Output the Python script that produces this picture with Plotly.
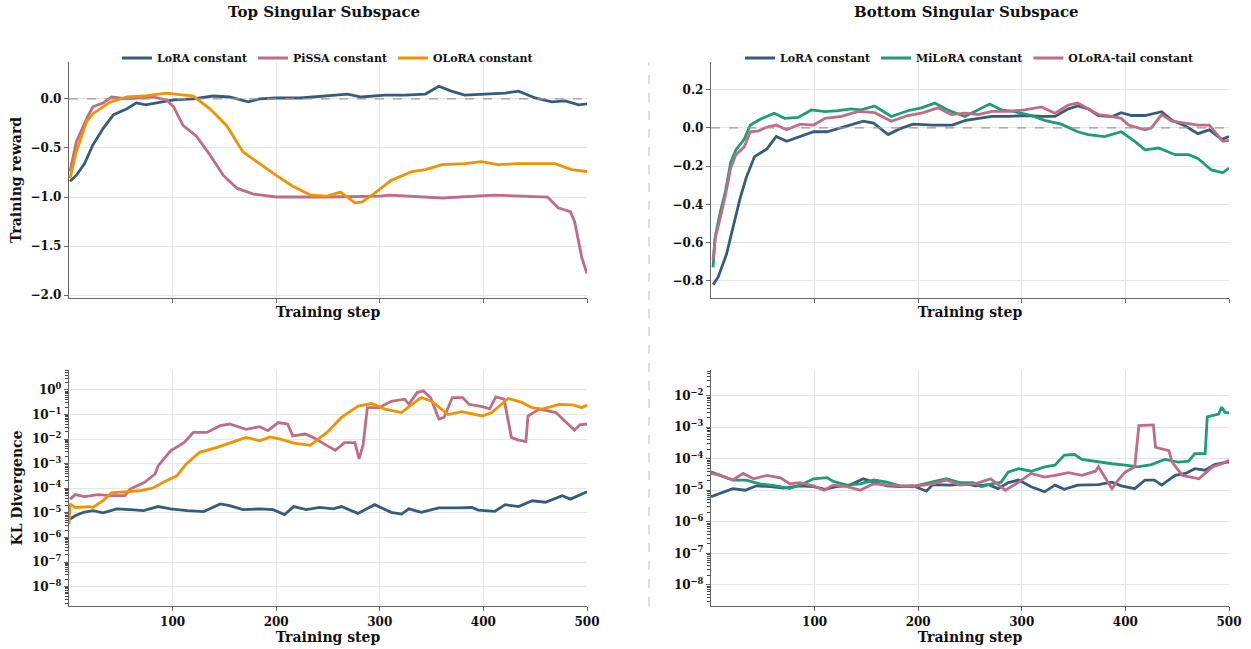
import plotly.graph_objects as go
from plotly.subplots import make_subplots

# ---------------- data ----------------
# Top singular subspace: training reward
tl_lora_step = [1, 7, 15, 23, 33, 43, 56, 65, 74, 88, 101, 120, 139, 155, 173, 184, 200, 223, 249, 269, 282,
                305, 324, 344, 357, 369, 382, 402, 421, 434, 450, 466, 479, 492, 500]
tl_lora_reward = [-0.84, -0.78, -0.66, -0.47, -0.30, -0.16, -0.10, -0.04, -0.06, -0.03, -0.01, 0.0, 0.03, 0.02,
                  -0.03, 0.0, 0.01, 0.01, 0.03, 0.05, 0.02, 0.04, 0.04, 0.05, 0.13, 0.08, 0.04, 0.05, 0.06, 0.08,
                  0.01, -0.03, -0.02, -0.06, -0.05]
tl_pissa_step = [1, 7, 17, 23, 33, 41, 56, 81, 94, 101, 110, 123, 136, 149, 162, 178, 200, 250, 300, 310, 360,
                 400, 410, 462, 472, 484, 488, 495, 500]
tl_pissa_reward = [-0.74, -0.44, -0.20, -0.08, -0.04, 0.02, 0.0, 0.02, -0.01, -0.08, -0.27, -0.38, -0.57, -0.78,
                   -0.91, -0.97, -1.0, -1.0, -0.99, -0.98, -1.01, -0.99, -0.98, -1.0, -1.11, -1.15, -1.25, -1.62,
                   -1.78]
tl_olora_step = [1, 7, 17, 23, 40, 56, 72, 94, 120, 136, 152, 168, 184, 200, 216, 233, 249, 262, 276, 283, 295,
                 311, 331, 344, 360, 382, 398, 414, 434, 453, 469, 485, 500]
tl_olora_reward = [-0.81, -0.54, -0.23, -0.15, -0.03, 0.02, 0.03, 0.06, 0.03, -0.10, -0.27, -0.54, -0.66, -0.78,
                   -0.89, -0.98, -0.99, -0.95, -1.06, -1.05, -0.96, -0.83, -0.74, -0.72, -0.67, -0.66, -0.64,
                   -0.67, -0.66, -0.66, -0.66, -0.72, -0.74]

# Bottom singular subspace: training reward
tr_lora_step = [2, 7, 15, 22, 28, 34, 42, 54, 63, 73, 86, 99, 112, 125, 147, 157, 171, 182, 195, 214, 233, 246,
                258, 271, 287, 303, 319, 332, 345, 354, 364, 374, 387, 396, 406, 419, 435, 445, 458, 470, 481,
                493, 500]
tr_lora_reward = [-0.82, -0.78, -0.66, -0.51, -0.37, -0.26, -0.15, -0.11, -0.045, -0.07, -0.045, -0.02, -0.02,
                  0.0, 0.035, 0.025, -0.035, -0.005, 0.02, 0.015, 0.015, 0.04, 0.05, 0.06, 0.06, 0.065, 0.06,
                  0.06, 0.10, 0.115, 0.10, 0.065, 0.06, 0.08, 0.065, 0.065, 0.085, 0.04, 0.01, -0.03, -0.01,
                  -0.06, -0.045]
tr_milora_step = [2, 4, 9, 14, 19, 24, 32, 38, 48, 61, 71, 84, 97, 110, 123, 135, 145, 158, 174, 190, 203, 216,
                  228, 245, 258, 269, 280, 293, 309, 322, 338, 354, 364, 380, 396, 409, 419, 432, 448, 461, 470,
                  483, 494, 500]
tr_milora_reward = [-0.73, -0.57, -0.44, -0.33, -0.18, -0.115, -0.06, 0.015, 0.047, 0.077, 0.05, 0.055, 0.094,
                    0.085, 0.09, 0.10, 0.095, 0.115, 0.06, 0.09, 0.105, 0.13, 0.095, 0.06, 0.095, 0.125, 0.095,
                    0.085, 0.065, 0.04, 0.02, -0.02, -0.035, -0.045, -0.02, -0.07, -0.115, -0.105, -0.14, -0.14,
                    -0.16, -0.22, -0.235, -0.21]
tr_olora_tail_step = [2, 4, 9, 14, 19, 24, 32, 38, 46, 54, 63, 73, 86, 99, 110, 126, 142, 158, 174, 190, 203,
                      219, 232, 245, 258, 271, 287, 303, 319, 332, 345, 354, 364, 374, 387, 396, 403, 419, 425,
                      435, 445, 458, 470, 481, 494, 500]
tr_olora_tail_reward = [-0.69, -0.58, -0.47, -0.35, -0.21, -0.14, -0.10, -0.02, -0.015, 0.005, 0.015, -0.01,
                        0.02, 0.015, 0.05, 0.06, 0.087, 0.08, 0.035, 0.065, 0.077, 0.105, 0.07, 0.077, 0.07,
                        0.087, 0.087, 0.095, 0.11, 0.077, 0.12, 0.13, 0.10, 0.07, 0.06, 0.05, 0.015, -0.01, 0.0,
                        0.07, 0.035, 0.025, 0.015, 0.015, -0.07, -0.065]

# Top singular subspace: KL divergence
bl_lora_step = [1, 6, 14, 23, 33, 46, 59, 72, 86, 98, 114, 130, 146, 155, 168, 184, 197, 208, 217, 229, 242, 255,
                263, 279, 295, 311, 321, 328, 340, 357, 376, 389, 395, 411, 421, 434, 447, 460, 476, 484, 500]
bl_lora_kl = [5.6e-6, 7.6e-6, 1.05e-5, 1.23e-5, 1.0e-5, 1.45e-5, 1.35e-5, 1.23e-5, 1.8e-5, 1.45e-5, 1.23e-5,
              1.12e-5, 2.3e-5, 1.95e-5, 1.35e-5, 1.45e-5, 1.35e-5, 8.5e-6, 1.8e-5, 1.35e-5, 1.65e-5, 1.45e-5,
              1.8e-5, 9.5e-6, 2.15e-5, 1.05e-5, 8.9e-6, 1.45e-5, 1.05e-5, 1.6e-5, 1.6e-5, 1.65e-5, 1.3e-5,
              1.15e-5, 2.15e-5, 1.8e-5, 3.1e-5, 2.7e-5, 5.0e-5, 3.6e-5, 7.2e-5]
bl_pissa_step = [1, 6, 15, 28, 41, 54, 59, 73, 83, 86, 98, 111, 120, 133, 146, 155, 171, 184, 192, 202, 211,
                 216, 228, 236, 249, 257, 266, 276, 280, 284, 288, 299, 311, 324, 328, 336, 342, 349, 357, 362,
                 370, 380, 386, 399, 406, 412, 420, 427, 433, 441, 443, 454, 470, 480, 488, 493, 500]
bl_pissa_kl = [3.6e-5, 5.5e-5, 4.6e-5, 5.5e-5, 5.0e-5, 5.0e-5, 9.3e-5, 1.75e-4, 3.8e-4, 8.1e-4, 3.3e-3, 7.2e-3,
               1.86e-2, 1.86e-2, 3.5e-2, 4.1e-2, 2.5e-2, 3.2e-2, 2.2e-2, 4.7e-2, 4.1e-2, 1.35e-2, 1.6e-2,
               1.15e-2, 5.4e-3, 3.5e-3, 7.2e-3, 7.2e-3, 1.55e-3, 6.3e-3, 0.19, 0.19, 0.34, 0.42, 0.26, 0.78,
               0.91, 0.49, 0.065, 0.076, 0.49, 0.49, 0.26, 0.21, 0.17, 0.52, 0.42, 0.0117, 0.0093, 0.0079,
               0.087, 0.166, 0.12, 0.047, 0.023, 0.038, 0.041]
bl_olora_step = [0, 1, 6, 20, 23, 33, 41, 54, 68, 81, 91, 104, 113, 126, 143, 159, 171, 184, 194, 204, 217, 233,
                 239, 249, 257, 263, 279, 292, 305, 321, 331, 340, 350, 366, 379, 399, 408, 424, 437, 447, 457,
                 473, 486, 495, 500]
bl_olora_kl = [3.5e-6, 2.3e-5, 1.65e-5, 1.8e-5, 1.65e-5, 3.2e-5, 6.5e-5, 7.2e-5, 7.9e-5, 1.02e-4, 1.75e-4,
               3.2e-4, 9.5e-4, 2.9e-3, 4.6e-3, 7.9e-3, 1.17e-2, 8.5e-3, 1.23e-2, 1.0e-2, 6.8e-3, 5.6e-3, 9.1e-3,
               1.86e-2, 4.1e-2, 7.6e-2, 0.22, 0.28, 0.166, 0.12, 0.26, 0.49, 0.35, 0.10, 0.13, 0.087, 0.12,
               0.45, 0.31, 0.19, 0.166, 0.26, 0.245, 0.19, 0.245]

# Bottom singular subspace: KL divergence
br_lora_step = [0, 4, 12, 21, 33, 44, 57, 70, 86, 99, 110, 121, 134, 147, 157, 170, 182, 195, 208, 214, 231, 247,
                255, 268, 277, 287, 297, 309, 322, 332, 341, 354, 374, 387, 396, 409, 419, 428, 435, 448, 458,
                467, 477, 486, 498, 500]
br_lora_kl = [6.2e-6, 6.9e-6, 8.9e-6, 1.12e-5, 1.0e-5, 1.38e-5, 1.29e-5, 1.17e-5, 1.38e-5, 1.29e-5, 1.07e-5,
              1.29e-5, 1.45e-5, 2.3e-5, 1.8e-5, 1.38e-5, 1.29e-5, 1.38e-5, 9.3e-6, 1.5e-5, 1.45e-5, 1.6e-5,
              1.38e-5, 1.5e-5, 1.12e-5, 1.74e-5, 2.1e-5, 1.29e-5, 8.9e-6, 1.45e-5, 1.07e-5, 1.45e-5, 1.5e-5,
              1.8e-5, 1.38e-5, 1.12e-5, 2.1e-5, 2.1e-5, 1.45e-5, 2.95e-5, 3.4e-5, 4.8e-5, 4.3e-5, 6.5e-5,
              7.8e-5, 7.8e-5]
br_milora_step = [0, 9, 21, 34, 47, 63, 76, 89, 99, 112, 118, 131, 144, 157, 170, 182, 195, 211, 227, 240, 253,
                  261, 271, 280, 287, 297, 309, 322, 332, 341, 351, 358, 374, 387, 400, 412, 425, 438, 451, 461,
                  467, 477, 479, 490, 493, 496, 500]
br_milora_kl = [3.8e-5, 2.95e-5, 2.1e-5, 2.1e-5, 1.6e-5, 1.38e-5, 1.12e-5, 1.6e-5, 2.3e-5, 2.5e-5, 1.9e-5,
                1.45e-5, 1.6e-5, 2.1e-5, 1.8e-5, 1.38e-5, 1.29e-5, 1.74e-5, 2.3e-5, 1.74e-5, 1.74e-5, 1.29e-5,
                1.6e-5, 1.8e-5, 3.8e-5, 4.8e-5, 4.0e-5, 5.5e-5, 6.2e-5, 1.29e-4, 1.35e-4, 9.5e-5, 7.8e-5,
                6.9e-5, 6.2e-5, 5.5e-5, 6.5e-5, 9.5e-5, 7.8e-5, 8.3e-5, 1.45e-4, 1.45e-4, 2.1e-3, 2.6e-3,
                4.3e-3, 2.95e-3, 2.8e-3]
br_olora_tail_step = [0, 9, 21, 31, 41, 54, 67, 76, 86, 99, 109, 118, 131, 144, 157, 170, 182, 199, 214, 227,
                      240, 255, 270, 284, 297, 309, 322, 332, 345, 358, 371, 374, 387, 393, 400, 409, 413, 427,
                      429, 442, 445, 455, 471, 484, 493, 500]
br_olora_tail_kl = [3.4e-5, 2.95e-5, 2.1e-5, 3.4e-5, 2.3e-5, 2.95e-5, 2.45e-5, 1.6e-5, 1.74e-5, 1.38e-5, 1.0e-5,
                    1.45e-5, 1.29e-5, 1.0e-5, 1.6e-5, 1.5e-5, 1.38e-5, 1.38e-5, 1.6e-5, 2.1e-5, 1.45e-5, 1.6e-5,
                    2.3e-5, 1.0e-5, 1.8e-5, 3.4e-5, 2.6e-5, 2.95e-5, 3.6e-5, 2.95e-5, 4.0e-5, 5.5e-5, 1.12e-5,
                    2.1e-5, 3.8e-5, 5.5e-5, 1.12e-3, 1.17e-3, 2.3e-4, 1.8e-4, 7.8e-5, 2.95e-5, 2.3e-5, 5.5e-5,
                    6.9e-5, 8.9e-5]

x_ticks = [100, 200, 300, 400, 500]
tl_yticks = [0.0, -0.5, -1.0, -1.5, -2.0]
tr_yticks = [0.2, 0.0, -0.2, -0.4, -0.6, -0.8]
bl_kl_ticks = [1e0, 1e-1, 1e-2, 1e-3, 1e-4, 1e-5, 1e-6, 1e-7, 1e-8]
bl_kl_labels = ["10<sup>0</sup>", "10<sup>−1</sup>", "10<sup>−2</sup>", "10<sup>−3</sup>", "10<sup>−4</sup>",
                "10<sup>−5</sup>", "10<sup>−6</sup>", "10<sup>−7</sup>", "10<sup>−8</sup>"]
br_kl_ticks = [1e-2, 1e-3, 1e-4, 1e-5, 1e-6, 1e-7, 1e-8]
br_kl_labels = ["10<sup>−2</sup>", "10<sup>−3</sup>", "10<sup>−4</sup>", "10<sup>−5</sup>", "10<sup>−6</sup>",
                "10<sup>−7</sup>", "10<sup>−8</sup>"]

# ---------------- styling ----------------
C_LORA = "#355C7D"
C_PISSA = "#C06C84"
C_OLORA = "#F39200"
C_MILORA = "#1B9E77"
FONT = "DejaVu Serif"
W, H = 1251, 649
LW = 2.8

fig = make_subplots(rows=2, cols=2)


def px_x(p):
    return p / W


def px_y(p):
    return 1 - p / H


xl = [px_x(69), px_x(587)]
xr = [px_x(711), px_x(1229)]
yt = [px_y(298), px_y(62)]
yb = [px_y(606), px_y(370)]

BL_RANGE = [-8.79, 0.81]
BR_RANGE = [-8.67, -1.19]

# minor log ticks (2..9 of each decade) drawn by overlay axes placed underneath the main ones
minor_vals = [m * 10.0 ** e for e in range(-9, 1) for m in range(2, 10)]
minor_axis = dict(type="log", tickmode="array", tickvals=minor_vals, ticks="outside", ticklen=3,
                  tickcolor="#444", tickwidth=1, showticklabels=False, showgrid=False, showline=False,
                  zeroline=False, side="left", automargin=False)
fig.update_layout(
    yaxis5=dict(overlaying="y3", anchor="x3", domain=yb, range=BL_RANGE, **minor_axis),
    yaxis6=dict(overlaying="y4", anchor="x4", domain=yb, range=BR_RANGE, **minor_axis),
)
fig.add_trace(go.Scatter(x=bl_lora_step, y=bl_lora_kl, xaxis="x3", yaxis="y5", mode="lines", opacity=0,
                         showlegend=False, hoverinfo="skip"))
fig.add_trace(go.Scatter(x=br_lora_step, y=br_lora_kl, xaxis="x4", yaxis="y6", mode="lines", opacity=0,
                         showlegend=False, hoverinfo="skip"))


def add_line(x, y, name, color, row, col, legend, show):
    fig.add_trace(go.Scatter(x=x, y=y, mode="lines", name=name,
                             line=dict(color=color, width=LW),
                             legend=legend, showlegend=show), row=row, col=col)


add_line(tl_lora_step, tl_lora_reward, "LoRA constant", C_LORA, 1, 1, "legend", True)
add_line(tl_pissa_step, tl_pissa_reward, "PiSSA constant", C_PISSA, 1, 1, "legend", True)
add_line(tl_olora_step, tl_olora_reward, "OLoRA constant", C_OLORA, 1, 1, "legend", True)

add_line(tr_lora_step, tr_lora_reward, "LoRA constant", C_LORA, 1, 2, "legend2", True)
add_line(tr_milora_step, tr_milora_reward, "MiLoRA constant", C_MILORA, 1, 2, "legend2", True)
add_line(tr_olora_tail_step, tr_olora_tail_reward, "OLoRA-tail constant", C_PISSA, 1, 2, "legend2", True)

add_line(bl_lora_step, bl_lora_kl, "LoRA constant", C_LORA, 2, 1, "legend", False)
add_line(bl_pissa_step, bl_pissa_kl, "PiSSA constant", C_PISSA, 2, 1, "legend", False)
add_line(bl_olora_step, bl_olora_kl, "OLoRA constant", C_OLORA, 2, 1, "legend", False)

add_line(br_lora_step, br_lora_kl, "LoRA constant", C_LORA, 2, 2, "legend2", False)
add_line(br_milora_step, br_milora_kl, "MiLoRA constant", C_MILORA, 2, 2, "legend2", False)
add_line(br_olora_tail_step, br_olora_tail_kl, "OLoRA-tail constant", C_PISSA, 2, 2, "legend2", False)

tickfont = dict(family=FONT, size=12, color="#111", weight="bold")
titlefont = dict(family=FONT, size=14, color="#111", weight="bold")
axis_common = dict(showline=True, linecolor="#666", linewidth=1.3, ticks="outside", ticklen=4,
                   tickcolor="#666", showgrid=True, gridcolor="#e6e6e6", gridwidth=1, zeroline=False,
                   tickfont=tickfont, mirror=False, automargin=False)

for r, c, dom_x, dom_y in [(1, 1, xl, yt), (1, 2, xr, yt), (2, 1, xl, yb), (2, 2, xr, yb)]:
    fig.update_xaxes(domain=dom_x, range=[0, 500], tickvals=x_ticks, showticklabels=(r == 2),
                     title=dict(text="Training step", font=titlefont, standoff=5 if r == 1 else 2),
                     row=r, col=c, **axis_common)
    fig.update_yaxes(domain=dom_y, row=r, col=c, **axis_common)

fig.update_yaxes(range=[-2.03, 0.377], tickvals=tl_yticks, tickformat=".1f",
                 title=dict(text="Training reward", font=titlefont, standoff=5), row=1, col=1)
fig.update_yaxes(range=[-0.89, 0.345], tickvals=tr_yticks, tickformat=".1f", row=1, col=2)

fig.update_yaxes(type="log", range=BL_RANGE, tickvals=bl_kl_ticks, ticktext=bl_kl_labels,
                 title=dict(text="KL Divergence", font=titlefont, standoff=5), row=2, col=1)
fig.update_yaxes(type="log", range=BR_RANGE, tickvals=br_kl_ticks, ticktext=br_kl_labels, row=2, col=2)

# dashed zero lines on the reward plots
for r, c in [(1, 1), (1, 2)]:
    fig.add_hline(y=0, line=dict(color="#9a9a9a", width=1.2, dash="dash"), row=r, col=c)

# vertical separator between the two columns
fig.add_shape(type="line", xref="paper", yref="paper", x0=px_x(649), x1=px_x(649), y0=px_y(606),
              y1=px_y(62), line=dict(color="#bdbdbd", width=1, dash="dash"))

# column titles
for text, xc in [("Top Singular Subspace", (xl[0] + xl[1]) / 2 - 0.003),
                 ("Bottom Singular Subspace", (xr[0] + xr[1]) / 2 - 0.003)]:
    fig.add_annotation(text=text, xref="paper", yref="paper", x=xc, y=px_y(12), xanchor="center",
                       yanchor="middle", showarrow=False,
                       font=dict(family=FONT, size=15, color="#111", weight="bold"))

legend_common = dict(orientation="h", xanchor="center", yanchor="middle", y=px_y(58),
                     bgcolor="rgba(0,0,0,0)", font=dict(family=FONT, size=11, color="#111", weight="bold"),
                     itemwidth=30, tracegroupgap=0)
fig.update_layout(
    width=W, height=H, margin=dict(l=0, r=0, t=0, b=0, autoexpand=False),
    plot_bgcolor="white", paper_bgcolor="white",
    legend=dict(x=(xl[0] + xl[1]) / 2, **legend_common),
    legend2=dict(x=(xr[0] + xr[1]) / 2, **legend_common),
)

fig.write_html("out.html")
